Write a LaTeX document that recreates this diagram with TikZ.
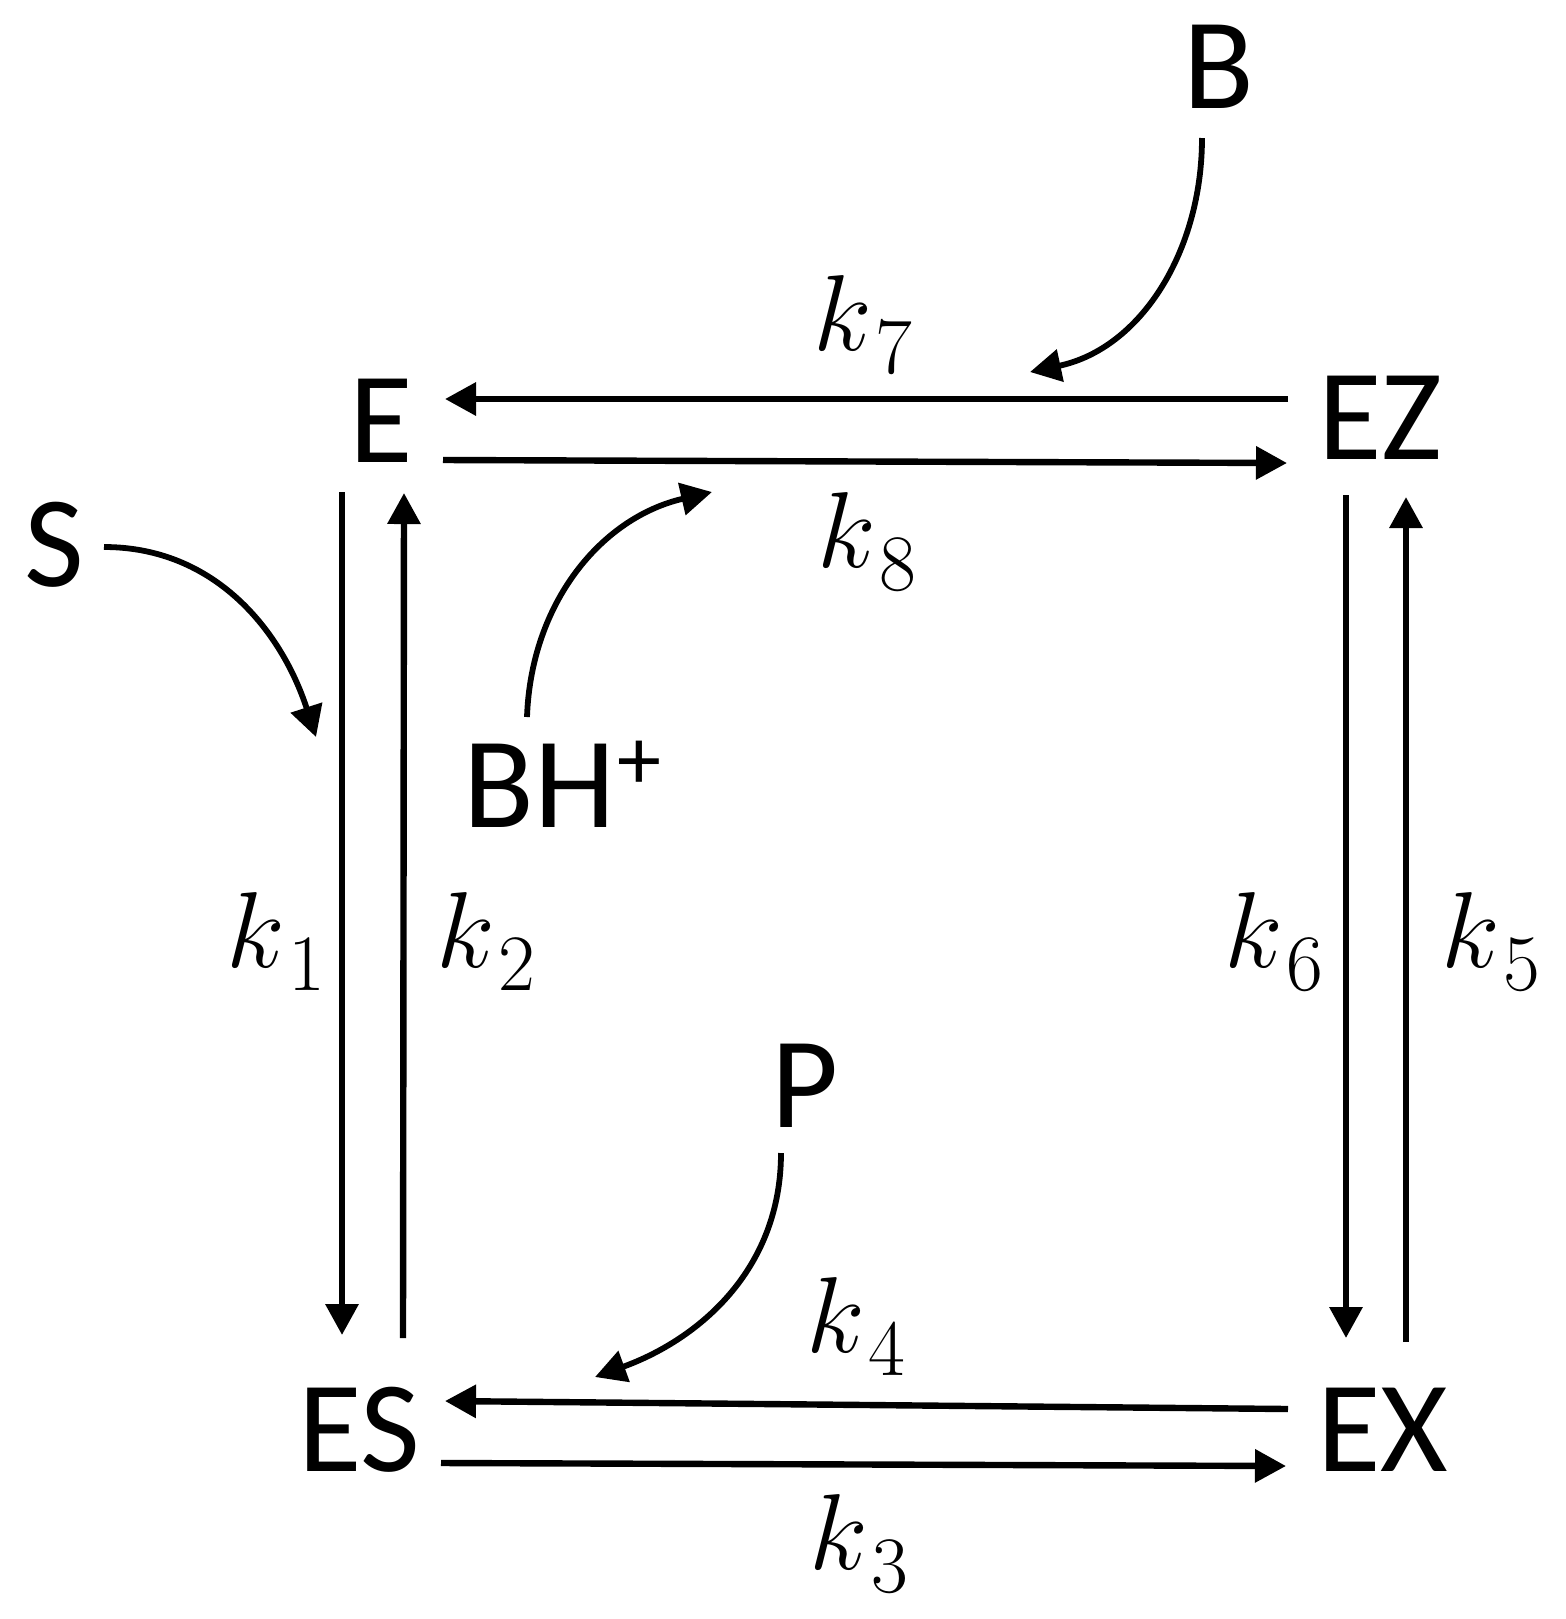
\RequirePackage{fix-cm}
\documentclass[tikz,border=0pt]{standalone}
\usepackage[no-math]{fontspec}
\newfontfamily\specfont{Carlito}
\usetikzlibrary{arrows.meta}
\newcommand\ratek[1]{$k$\kern2pt\raisebox{-11.5pt}{\fontsize{40}{40}\selectfont #1}}
\begin{document}
\begin{tikzpicture}[x=0.5pt,y=0.5pt,
  species/.style={font={\specfont\fontsize{65}{70}\selectfont}, inner sep=0pt, anchor=base},
  rate/.style={font={\fontsize{54}{60}\selectfont}, inner sep=0pt, anchor=base},
  rx/.style={line width=3.2pt, -{Triangle[length=15.5pt,width=16pt]}},
  cx/.style={line width=2.9pt, -{Triangle[length=15.5pt,width=16pt]}}]
\useasboundingbox (0,0) rectangle (1566,-1619);
% species
\node[species] (E) at (381,-462) {E};
\node[species] (EZ) at (1380,-459) {EZ};
\node[species] (ES) at (359,-1471) {ES};
\node[species] (EX) at (1383,-1471) {EX};
\node[species] (S) at (54,-586) {S};
\node[species, anchor=base west] (BH) at (463,-827) {BH\kern1pt\raisebox{19pt}{\fontsize{44}{44}\selectfont +}};
\node[species] (B) at (1219,-108) {B};
\node[species] (P) at (805,-1127) {P};
% rate labels
\node[rate] (k7) at (863,-350) {\ratek{7}};
\node[rate] (k8) at (867,-567) {\ratek{8}};
\node[rate] (k1) at (276,-967) {\ratek{1}};
\node[rate] (k2) at (486,-967) {\ratek{2}};
\node[rate] (k6) at (1274,-967) {\ratek{6}};
\node[rate] (k5) at (1491,-967) {\ratek{5}};
\node[rate] (k4) at (856,-1352) {\ratek{4}};
\node[rate] (k3) at (859,-1569) {\ratek{3}};
% free ends of the curved arrows
\coordinate (sEnd) at (316,-737);
\coordinate (bhEnd) at (712,-492);
\coordinate (bEnd) at (1030,-372);
\coordinate (pEnd) at (595,-1377);
% straight reaction arrows
\draw[rx] ([shift={(-92,60)}]EZ.base) -- ([shift={(64,63)}]E.base);
\draw[rx] ([shift={(62,2)}]E.base) -- ([shift={(-93,-4)}]EZ.base);
\draw[rx] ([shift={(-39,-30)}]E.base) -- ([shift={(-17,136)}]ES.base);
\draw[rx] ([shift={(44,133)}]ES.base) -- ([shift={(23,-31)}]E.base);
\draw[rx] ([shift={(-34,-36)}]EZ.base) -- ([shift={(-37,133)}]EX.base);
\draw[rx] ([shift={(23,129)}]EX.base) -- ([shift={(26,-38)}]EZ.base);
\draw[rx] ([shift={(-95,62)}]EX.base) -- ([shift={(86,70)}]ES.base);
\draw[rx] ([shift={(82,8)}]ES.base) -- ([shift={(-97,5)}]EX.base);
% curved arrows
\draw[cx] ([shift={(50,39)}]S.base) to[out=0,in=108] (sEnd);
\draw[cx] ([shift={(64,110)}]BH.base west) to[out=88,in=193] (bhEnd);
\draw[cx] ([shift={(-17,-30)}]B.base) to[out=-90,in=12] (bEnd);
\draw[cx] ([shift={(-24,-26)}]P.base) to[out=-90,in=20] (pEnd);
\end{tikzpicture}
\end{document}
